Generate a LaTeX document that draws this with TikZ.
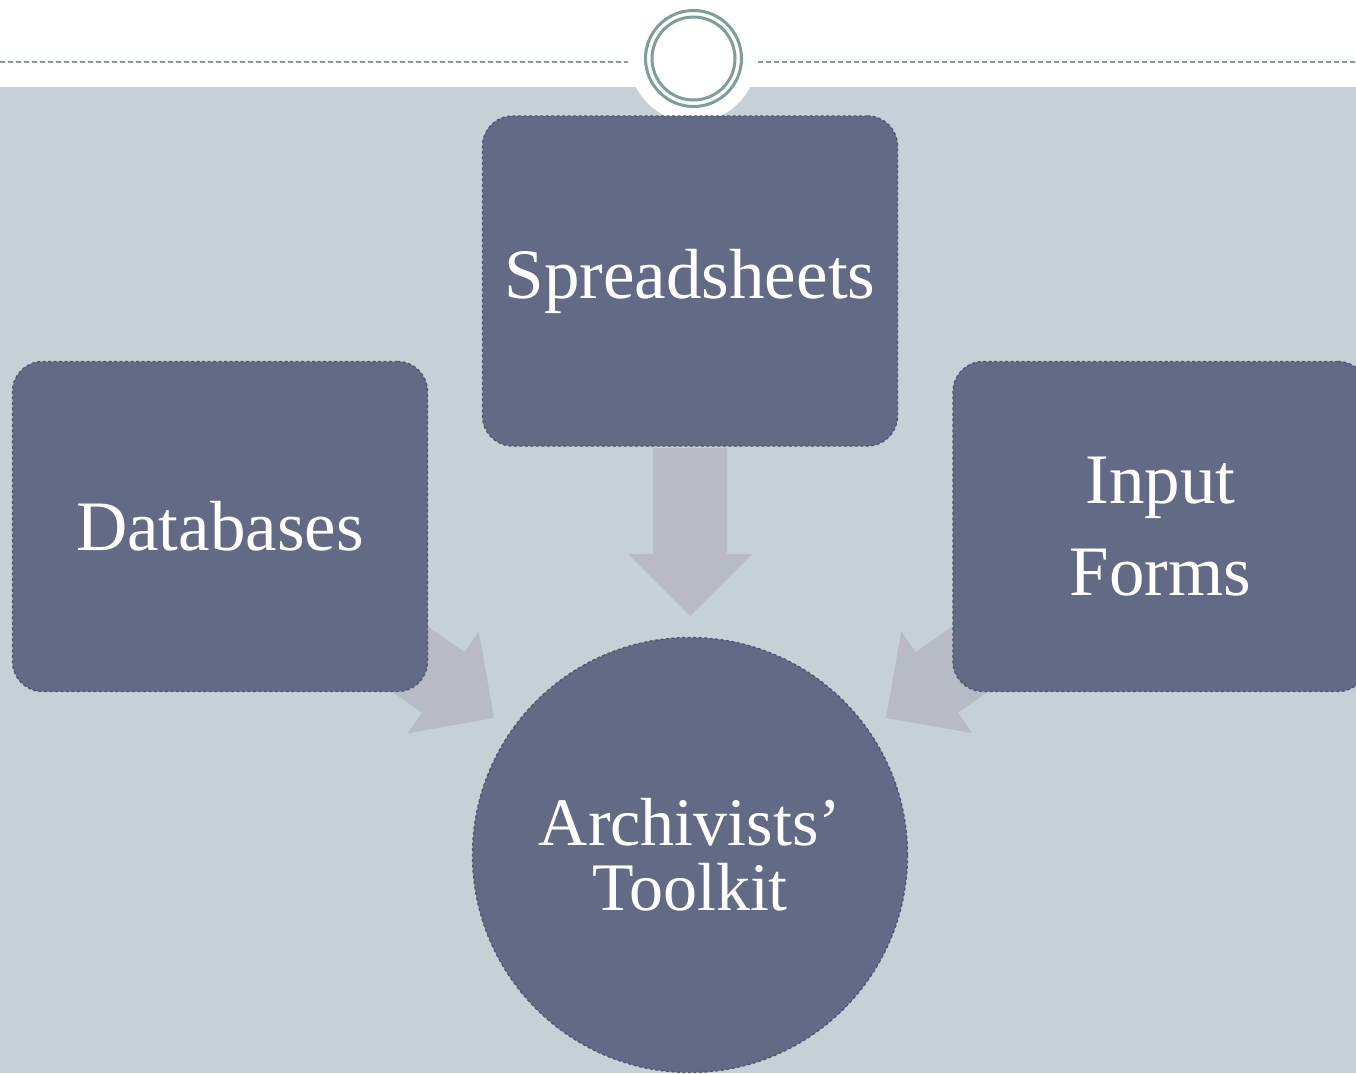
\documentclass[tikz,border=0pt]{standalone}
\usepackage{fontspec}
\setmainfont{Liberation Serif}
\definecolor{bgband}{HTML}{C5D1D7}
\definecolor{boxfill}{HTML}{636A86}
\definecolor{boxedge}{HTML}{4E5573}
\definecolor{arrowfill}{HTML}{B8BBC5}
\definecolor{ringcol}{HTML}{7F9E99}
\tikzset{
  blockbox/.style={draw=boxedge, fill=boxfill, line width=1.3pt, dash pattern=on 3pt off 2.5pt,
    rounded corners=30pt, minimum width=415pt, minimum height=330pt, text=white,
    align=center, font=\fontsize{71}{92}\selectfont, inner sep=0pt},
  hubcircle/.style={draw=boxedge, fill=boxfill, line width=1.3pt, dash pattern=on 3pt off 2.5pt,
    circle, minimum size=435pt, text=white, align=center,
    font=\fontsize{68}{65}\selectfont, inner sep=0pt},
  blockarrow/.style={fill=arrowfill, draw=none},
  ring/.style={draw=ringcol, line width=3pt},
  topdash/.style={draw=ringcol, line width=1.5pt, dash pattern=on 5pt off 3pt}
}
\newcommand{\myblockarrow}[2]{%
  \fill[blockarrow, shift={(#1)}, rotate=#2]
    (0,-37) -- (106,-37) -- (106,-62) -- (168,0) -- (106,62) -- (106,37) -- (0,37) -- cycle;}
\begin{document}
\begin{tikzpicture}[x=1pt, y=-1pt]
\useasboundingbox (0,0) rectangle (1356,1073);
% background
\fill[white] (0,0) rectangle (1356,1073);
\fill[bgband] (0,87) rectangle (1356,1073);
\fill[white] (693,58) circle (64);
% top dashed line
\coordinate (dl0) at (0,62);
\coordinate (dl1) at (628,62);
\coordinate (dr0) at (758,62);
\coordinate (dr1) at (1356,62);
\draw[topdash] (dl0) -- (dl1);
\draw[topdash] (dr0) -- (dr1);
% rings
\node[ring, circle, minimum size=96pt, inner sep=0pt] (outerring) at (693.5,58.5) {};
\node[ring, circle, minimum size=83pt, inner sep=0pt] (innerring) at (693.5,58.5) {};
% arrows (drawn below boxes)
\coordinate (ta) at (690,448);
\coordinate (tl) at (356.4,621.6);
\coordinate (tr) at (1023.6,621.6);
\myblockarrow{ta}{-90}
\myblockarrow{tl}{-35}
\myblockarrow{tr}{-145}
% boxes
\node[blockbox] (spread) at (690,281) {Spreadsheets};
\node[blockbox] (db) at (220,526.5) {Databases};
\node[blockbox] (forms) at (1160.5,526.5) {Input\\Forms};
\node[hubcircle] (at) at (690,855) {Archivists’\\Toolkit};
\end{tikzpicture}
\end{document}
